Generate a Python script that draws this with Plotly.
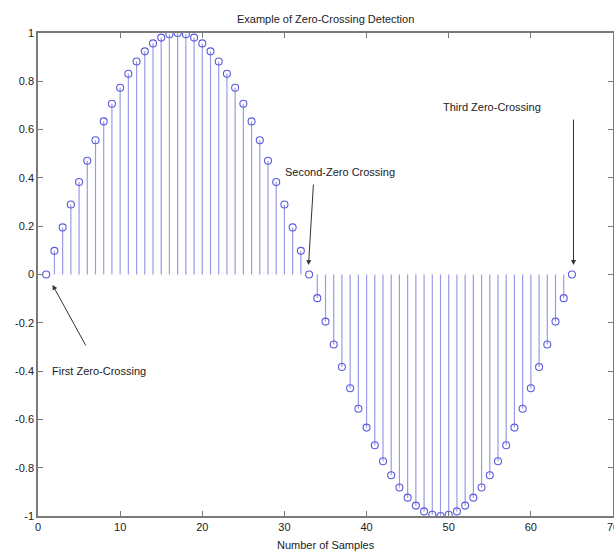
import plotly.graph_objects as go

samples = list(range(1, 66))
values = [
    0.0, 0.098, 0.195, 0.290, 0.383, 0.471, 0.556, 0.634, 0.707, 0.773, 0.831,
    0.882, 0.924, 0.957, 0.981, 0.995, 1.0, 0.995, 0.981, 0.957, 0.924, 0.882,
    0.831, 0.773, 0.707, 0.634, 0.556, 0.471, 0.383, 0.290, 0.195, 0.098, 0.0,
    -0.098, -0.195, -0.290, -0.383, -0.471, -0.556, -0.634, -0.707, -0.773,
    -0.831, -0.882, -0.924, -0.957, -0.981, -0.995, -1.0, -0.995, -0.981,
    -0.957, -0.924, -0.882, -0.831, -0.773, -0.707, -0.634, -0.556, -0.471,
    -0.383, -0.290, -0.195, -0.098, 0.0,
]
x_ticks = [0, 10, 20, 30, 40, 50, 60, 70]
y_ticks = [-1, -0.8, -0.6, -0.4, -0.2, 0, 0.2, 0.4, 0.6, 0.8, 1]
y_tick_labels = ["-1", "-0.8", "-0.6", "-0.4", "-0.2", "0", "0.2", "0.4", "0.6", "0.8", "1"]

title_text = "Example of Zero-Crossing Detection"
x_label = "Number of Samples"
notes = ["First Zero-Crossing", "Second-Zero Crossing", "Third Zero-Crossing"]

FONT = "Liberation Sans, Arial, sans-serif"

stem_x, stem_y = [], []
for s, v in zip(samples, values):
    stem_x += [s, s, None]
    stem_y += [0, v, None]

fig = go.Figure()
fig.add_trace(go.Scatter(x=stem_x, y=stem_y, mode="lines",
                         line=dict(color="#9a9ae6", width=1.2),
                         hoverinfo="skip", showlegend=False))
fig.add_trace(go.Scatter(x=samples, y=values, mode="markers",
                         marker=dict(symbol="circle-open", size=7,
                                     color="#5a5ade", line=dict(width=1.1)),
                         showlegend=False))

axis_common = dict(showgrid=False, zeroline=False, showline=True,
                   linecolor="#7a7a7a", linewidth=1.5, mirror="ticks",
                   ticks="inside", ticklen=5, tickcolor="#7a7a7a",
                   ticklabeloverflow="allow", automargin=False,
                   tickfont=dict(family=FONT, size=11, color="#222"))

fig.update_xaxes(range=[0, 70], tickvals=x_ticks, **axis_common)
fig.update_yaxes(range=[-1, 1], tickvals=y_ticks, ticktext=y_tick_labels,
                 **axis_common)

ann = []
# arrows
arrow_style = dict(text="", showarrow=True, arrowhead=2, arrowsize=1,
                   arrowwidth=1, arrowcolor="#333", xref="x", yref="y",
                   axref="pixel", ayref="pixel")
ann.append(dict(x=1.77, y=-0.043, ax=34, ay=62, **arrow_style))
ann.append(dict(x=32.93, y=0.039, ax=5, ay=-82, **arrow_style))
ann.append(dict(x=65.19, y=0.039, ax=0, ay=-147, **arrow_style))
# texts
txt_style = dict(showarrow=False, xref="x", yref="y", xanchor="left",
                 yanchor="middle", font=dict(family=FONT, size=11, color="#222"))
ann.append(dict(x=1.52, y=-0.4, text=notes[0], **txt_style))
ann.append(dict(x=29.77, y=0.424, text=notes[1], **txt_style))
ann.append(dict(x=49.0, y=0.694, text=notes[2], **txt_style))
# title and x label
ann.append(dict(x=0.5, y=1, xref="paper", yref="paper", yanchor="bottom",
                yshift=6, showarrow=False, text=title_text,
                font=dict(family=FONT, size=11, color="#222")))
ann.append(dict(x=0.5, y=0, xref="paper", yref="paper", yanchor="middle",
                yshift=-29, showarrow=False, text=x_label,
                font=dict(family=FONT, size=11, color="#222")))

fig.update_layout(width=614, height=552,
                  margin=dict(l=38, r=1, t=33, b=36, autoexpand=False),
                  paper_bgcolor="white", plot_bgcolor="white",
                  annotations=ann, showlegend=False)

fig.write_html("out.html",
               config={"displayModeBar": False},
               post_script="document.body.style.margin='0';"
                           "document.body.style.overflow='hidden';")
